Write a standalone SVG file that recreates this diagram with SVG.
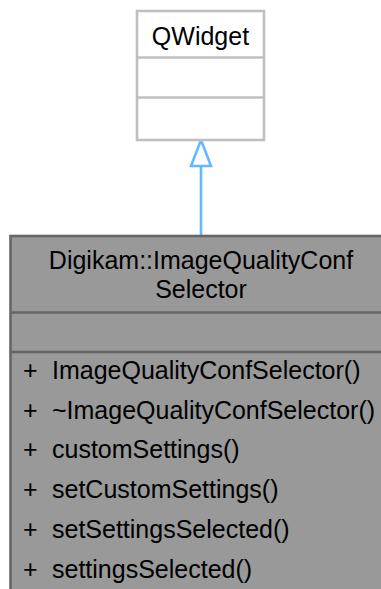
<svg xmlns="http://www.w3.org/2000/svg" width="381" height="589" viewBox="0 0 381 589">
<style>
text{font-family:"Liberation Sans",Arial,sans-serif;font-size:25px;fill:#000}
.c{text-anchor:middle}
.base{fill:#fff;stroke:#bfbfbf;stroke-width:2.6}
.main{fill:#999;stroke:#666;stroke-width:2.6}
.edge{stroke:#63b8ff;stroke-width:2.6;fill:none}
</style>
<g id="connectors">
<path class="edge" d="M201 236 L201 166"/>
<path d="M201 140 L211 166 L191 166 Z" fill="#fff" stroke="#63b8ff" stroke-width="2.6"/>
</g>
<g id="QWidget">
<rect class="base" x="137" y="11" width="127" height="129"/>
<line x1="137" y1="57.5" x2="264" y2="57.5" stroke="#bfbfbf" stroke-width="2.6"/>
<line x1="137" y1="97.5" x2="264" y2="97.5" stroke="#bfbfbf" stroke-width="2.6"/>
<text class="c" x="200.5" y="45">QWidget</text>
</g>
<g id="ImageQualityConfSelector">
<rect class="main" x="10.5" y="236" width="390" height="370"/>
<line x1="10.5" y1="312.5" x2="390" y2="312.5" stroke="#666" stroke-width="2.6"/>
<line x1="10.5" y1="352" x2="390" y2="352" stroke="#666" stroke-width="2.6"/>
<text class="c" x="201" y="269">Digikam::ImageQualityConf</text>
<text class="c" x="201" y="297.5">Selector</text>
<text x="23" y="379">+</text><text x="52" y="379">ImageQualityConfSelector()</text>
<text x="23" y="418.7">+</text><text x="52" y="418.7">~ImageQualityConfSelector()</text>
<text x="23" y="458.4">+</text><text x="52" y="458.4">customSettings()</text>
<text x="23" y="498.1">+</text><text x="52" y="498.1">setCustomSettings()</text>
<text x="23" y="537.8">+</text><text x="52" y="537.8">setSettingsSelected()</text>
<text x="23" y="577.5">+</text><text x="52" y="577.5">settingsSelected()</text>
</g>
</svg>
